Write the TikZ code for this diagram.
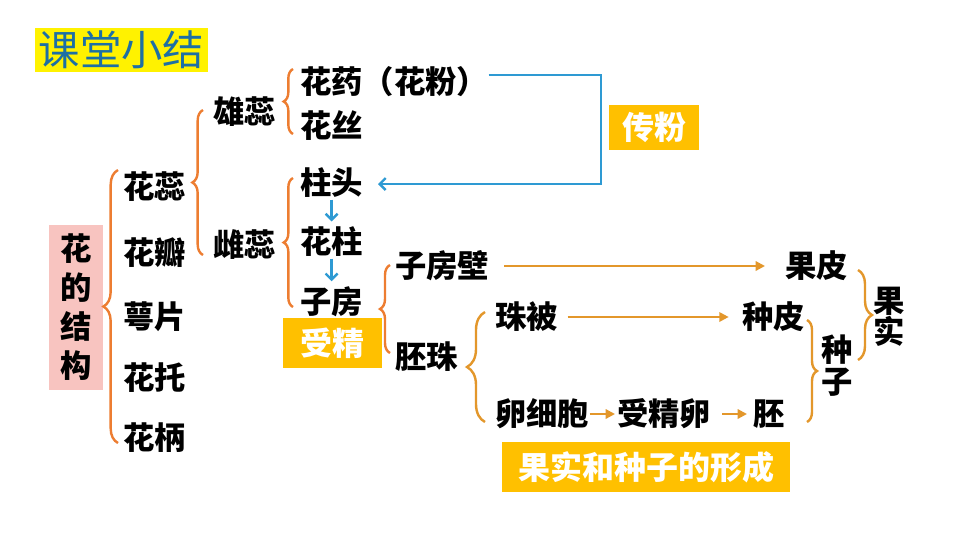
\documentclass[tikz,border=0pt]{standalone}
\usepackage{fontspec}
\setmainfont{Noto Sans CJK SC}
\usetikzlibrary{decorations.pathreplacing,arrows.meta}
\definecolor{braceorange}{HTML}{ED7D31}
\definecolor{lightorange}{HTML}{E3972B}
\definecolor{tagyellow}{HTML}{FFC000}
\definecolor{pollenblue}{HTML}{2E9AD3}
\definecolor{titleblue}{HTML}{1D6FA5}
\definecolor{titlepink}{HTML}{F8C4C0}
\tikzset{
  word/.style={inner sep=0pt, anchor=west, font=\fontsize{23.5}{26}\selectfont\bfseries},
  column/.style={inner sep=0pt, align=center, font=\fontsize{23.5}{#1}\selectfont\bfseries},
  tag/.style={fill=tagyellow, text=white, inner sep=0pt, font=\fontsize{24}{26}\selectfont\bfseries},
  curly/.style={decorate, decoration={brace, amplitude=#1}, line width=1.8pt, draw=braceorange},
  softcurly/.style={curly=#1, draw=lightorange},
  growth/.style={draw=lightorange, line width=1.6pt, -{Triangle[length=7pt, width=7pt]}},
  pollen/.style={draw=pollenblue, line width=1.8pt, -{Straight Barb[length=4.5pt, width=9pt]}}
}

\begin{document}
\begin{tikzpicture}[x=0.75pt, y=-0.75pt]
        \useasboundingbox[fill=white] (0,0) rectangle (960,540);

        %% Titulo
        \node[fill=yellow, text=titleblue, inner sep=0pt, minimum width=129.75pt, minimum height=33pt, font=\fontsize{31}{33}\selectfont] (title) at (121.5,50) {课堂小结};

        %% Estructura de la flor
        \node[column=29.25pt, fill=titlepink, minimum width=40.5pt, minimum height=123.75pt] (hua) at (76,307.5) {花\\的\\结\\构};
        % Partes
        \node[word] (huarui) at (123,187) {花蕊};
        \node[word] (huaban) at (123,253) {花瓣};
        \node[word] (epian) at (123,317) {萼片};
        \node[word] (huatuo) at (123,378) {花托};
        \node[word] (huabing) at (123,438) {花柄};
        \coordinate (b_hua_top) at (118,170);
        \coordinate (b_hua_bot) at (118,443);
        \draw[curly=11pt] (b_hua_bot) -- (b_hua_top);

        % Estambre y pistilo
        \node[word] (xiongrui) at (213,112) {雄蕊};
        \node[word] (cirui) at (213,245) {雌蕊};
        \coordinate (b_rui_top) at (203,110);
        \coordinate (b_rui_bot) at (203,255);
        \draw[curly=8pt] (b_rui_bot) -- (b_rui_top);

        % Partes del estambre
        \node[word] (huayao) at (300,82) {花药（花粉）};
        \node[word] (huasi) at (300,126) {花丝};
        \coordinate (b_xiong_top) at (293,69);
        \coordinate (b_xiong_bot) at (293,134);
        \draw[curly=7pt] (b_xiong_bot) -- (b_xiong_top);

        % Partes del pistilo
        \node[word] (zhutou) at (300,183) {柱头};
        \node[word] (huazhu) at (300,242) {花柱};
        \node[word] (zifang) at (300,302) {子房};
        \coordinate (b_ci_top) at (293,178);
        \coordinate (b_ci_bot) at (293,307);
        \draw[curly=7pt] (b_ci_bot) -- (b_ci_top);
        \draw[pollen, shorten <=1pt, shorten >=4pt] (zhutou.south) -- (huazhu.north);
        \draw[pollen, shorten <=1pt, shorten >=4pt] (huazhu.south) -- (zifang.north);

        %% Polinizacion y fecundacion
        \node[tag, minimum width=67.5pt, minimum height=33.75pt] (chuanfen) at (654,127.5) {传粉};
        \node[tag, minimum width=74.25pt, minimum height=37.5pt] (shoujing) at (332.5,343) {受精};
        \coordinate (pollen_in) at (378,184);
        \draw[pollen] ([shift={(0,-7)}]huayao.east) -| (601,130) |- (pollen_in);

        %% Fruto y semilla
        \node[word] (zifangbi) at (395,266) {子房壁};
        \node[word] (peizhu) at (395,357) {胚珠};
        \coordinate (b_zf_top) at (390,265);
        \coordinate (b_zf_bot) at (390,353);
        \draw[curly=7.5pt] (b_zf_bot) -- (b_zf_top);

        \node[word] (zhubei) at (495,317) {珠被};
        \node[word] (luanxibao) at (495,414) {卵细胞};
        \node[word] (shoujingluan) at (617,414) {受精卵};
        \coordinate (b_pz_top) at (485,312);
        \coordinate (b_pz_bot) at (485,422);
        \draw[softcurly=13.5pt] (b_pz_bot) -- (b_pz_top);

        \node[word] (guopi) at (785,266) {果皮};
        \node[word] (zhongpi) at (742,317) {种皮};
        \node[word] (pei) at (753,414) {胚};
        \draw[growth, shorten <=11pt, shorten >=15pt] (zifangbi.east) -- (guopi.west);
        \draw[growth, shorten <=7pt, shorten >=10pt] (zhubei.east) -- (zhongpi.west);
        \draw[growth, shorten >=1.5pt] (luanxibao.east) -- (shoujingluan.west);
        \draw[growth, shorten <=8pt, shorten >=4.5pt] (shoujingluan.east) -- (pei.west);

        \node[column=24pt] (zhongzi) at (837,366) {种\\子};
        \coordinate (b_zz_top) at (807,320);
        \coordinate (b_zz_bot) at (807,422);
        \draw[softcurly=7.5pt] (b_zz_top) -- (b_zz_bot);

        \node[column=23.5pt] (guoshi) at (889,317) {果\\实};
        \coordinate (b_gs_top) at (858,270);
        \coordinate (b_gs_bot) at (858,360);
        \draw[softcurly=10.5pt] (b_gs_top) -- (b_gs_bot);

        \node[tag, minimum width=216pt, minimum height=37.5pt] (xingcheng) at (646,467) {果实和种子的形成};
\end{tikzpicture}
\end{document}
